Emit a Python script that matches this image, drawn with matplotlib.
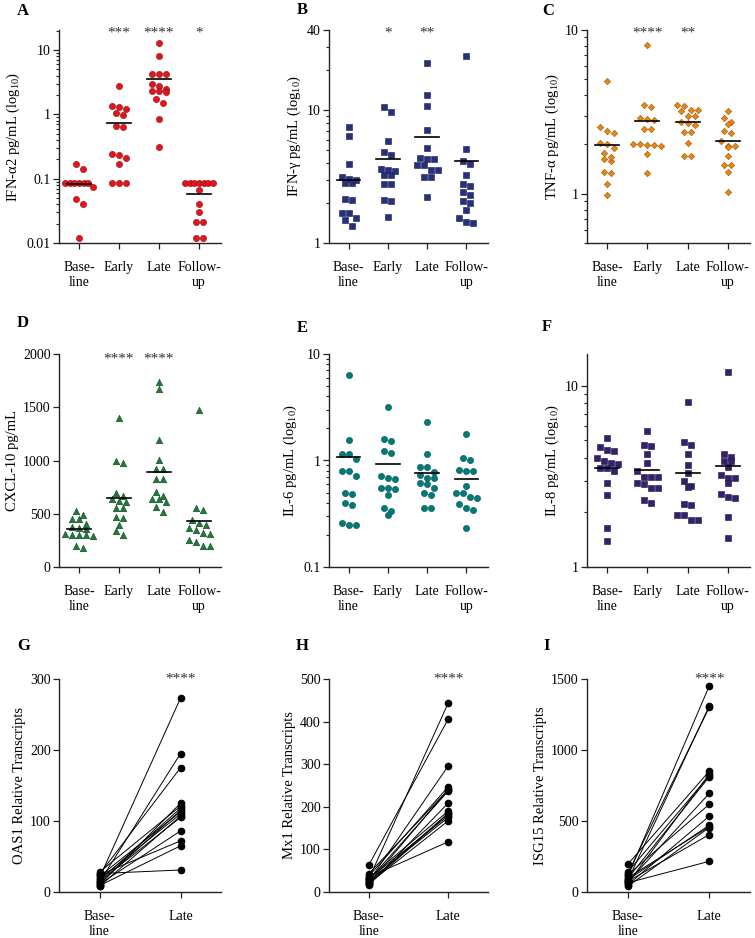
import numpy as np
import matplotlib.pyplot as plt
from matplotlib.ticker import FixedLocator, LogLocator, NullFormatter, FixedFormatter
from matplotlib.transforms import blended_transform_factory

plt.rcParams['font.family'] = ['Liberation Serif', 'DejaVu Serif']
plt.rcParams['mathtext.fontset'] = 'custom'
plt.rcParams['mathtext.rm'] = 'Liberation Serif'
plt.rcParams['mathtext.it'] = 'Liberation Serif:italic'
plt.rcParams['font.size'] = 10

cats4 = ['Base-\nline', 'Early', 'Late', 'Follow-\nup']
cats2 = ['Base-\nline', 'Late']

# A: IFN-a2 (pg/mL)
a_base = [0.172, 0.139, 0.087, 0.087, 0.087, 0.087, 0.087, 0.087, 0.075, 0.049, 0.040, 0.012]
a_early = [2.75, 1.21, 1.34, 1.28, 0.98, 1.04, 0.66, 0.63, 0.23, 0.21, 0.24, 0.17, 0.087, 0.087, 0.087]
a_late = [12.7, 8.2, 4.3, 4.3, 4.3, 3.0, 2.8, 2.5, 2.3, 2.2, 2.3, 1.75, 1.5, 0.86, 0.31]
a_fu = [0.087, 0.087, 0.087, 0.087, 0.087, 0.087, 0.087, 0.066, 0.040, 0.030, 0.021, 0.021, 0.012, 0.012]
a_stars = ['', '***', '****', '*']

# B: IFN-g
b_base = [7.47, 6.35, 3.96, 3.05, 2.82, 2.82, 2.99, 3.13, 2.11, 2.15, 1.67, 1.67, 1.53, 1.49, 1.35]
b_early = [10.6, 9.7, 5.8, 4.6, 4.8, 3.56, 3.63, 3.25, 3.25, 3.46, 2.77, 2.77, 2.11, 2.07, 1.57]
b_late = [22.6, 13.0, 10.7, 7.1, 5.15, 4.32, 4.25, 4.37, 3.84, 3.84, 3.56, 3.56, 3.13, 3.13, 2.23]
b_fu = [25.6, 5.11, 4.17, 3.94, 3.23, 2.77, 2.67, 2.41, 2.30, 2.08, 1.99, 1.77, 1.53, 1.44, 1.42]
b_stars = ['', '*', '**', '']

# C: TNF-a
c_base = [4.9, 2.54, 2.36, 2.40, 2.0, 2.05, 1.77, 1.89, 1.62, 1.58, 1.68, 1.33, 1.35, 1.14, 0.98]
c_early = [8.13, 3.47, 3.4, 2.88, 2.81, 2.92, 2.5, 2.5, 1.99, 1.99, 2.0, 1.97, 1.76, 1.34, 2.0]
c_late = [3.5, 3.45, 3.24, 3.18, 3.24, 2.98, 2.98, 2.75, 2.7, 2.62, 2.39, 2.39, 2.03, 1.7, 1.7]
c_fu = [3.21, 2.89, 2.75, 2.65, 2.4, 2.35, 2.1, 1.95, 1.95, 1.93, 1.7, 1.5, 1.5, 1.36, 1.03]
c_stars = ['', '****', '**', '']

# D: CXCL-10
d_base = [528, 455, 455, 487, 377, 361, 370, 408, 305, 289, 298, 305, 314, 182, 195]
d_early = [1403, 973, 998, 669, 622, 697, 550, 550, 462, 471, 399, 339, 298, 640, 612]
d_late = [1733, 1670, 1193, 1005, 920, 920, 826, 823, 707, 666, 634, 606, 634, 559, 518]
d_fu = [1476, 550, 534, 446, 399, 415, 352, 320, 314, 367, 232, 251, 195, 195]
d_stars = ['', '****', '****', '']

# E: IL-6
e_base = [6.34, 1.55, 1.16, 1.16, 1.04, 0.80, 0.80, 0.71, 0.485, 0.49, 0.40, 0.385, 0.26, 0.247, 0.25]
e_early = [3.18, 1.51, 1.60, 1.22, 1.18, 0.68, 0.67, 0.72, 0.54, 0.55, 0.55, 0.47, 0.355, 0.337, 0.307]
e_late = [2.30, 1.16, 0.865, 0.877, 0.776, 0.73, 0.61, 0.55, 0.68, 0.68, 0.49, 0.47, 0.357, 0.357, 0.6]
e_fu = [1.78, 1.06, 1.02, 0.82, 0.79, 0.79, 0.58, 0.50, 0.50, 0.44, 0.45, 0.36, 0.39, 0.345, 0.23]

# F: IL-8
f_base = [5.17, 4.59, 4.36, 4.43, 3.84, 3.76, 4.0, 3.71, 3.51, 3.41, 3.51, 2.90, 2.49, 1.64, 1.39]
f_early = [5.6, 4.73, 4.63, 4.18, 3.74, 3.4, 3.16, 3.16, 3.16, 2.92, 2.88, 2.72, 2.72, 2.27, 2.34]
f_late = [8.2, 4.89, 4.69, 4.18, 3.66, 3.29, 3.0, 2.79, 2.76, 2.22, 2.20, 1.93, 1.93, 1.81, 1.81]
f_fu = [11.96, 4.22, 4.04, 3.84, 3.84, 3.24, 3.1, 3.1, 2.91, 2.53, 2.45, 2.39, 1.88, 1.44, 3.55]

# G-I: paired transcripts, baseline vs late
g_base = [20, 14, 25, 10, 28, 16, 12, 22, 18, 8, 15, 11, 24, 9, 26]
g_late = [273, 195, 175, 125, 121, 118, 115, 113, 110, 107, 105, 86, 72, 65, 31]
h_base = [30, 63, 25, 37, 20, 43, 28, 16, 33, 22, 18, 31, 26, 20, 35]
h_late = [444, 406, 296, 247, 241, 240, 237, 209, 190, 185, 184, 179, 175, 167, 118]
i_base = [110, 80, 130, 195, 60, 140, 95, 70, 120, 50, 85, 100, 40, 75, 65]
i_late = [1451, 1310, 1300, 851, 830, 820, 811, 694, 618, 534, 470, 460, 454, 404, 216]

W, H = 755, 938
fig = plt.figure(figsize=(W / 100, H / 100), dpi=100)


def add_ax(left, top, width, height):
    return fig.add_axes([left / W, 1 - (top + height) / H, width / W, height / H])


def style(ax):
    for s in ['top', 'right']:
        ax.spines[s].set_visible(False)
    for s in ['left', 'bottom']:
        ax.spines[s].set_linewidth(1.0)
        ax.spines[s].set_color('#222222')
    ax.tick_params(which='major', direction='out', length=4, width=0.9, color='#222222', labelsize=10)
    ax.tick_params(which='minor', direction='out', length=2.2, width=0.8, color='#222222')
    ax.tick_params(axis='y', pad=2)
    ax.tick_params(axis='x', pad=9)


def swarm_x(ax, x0, vals, d=7.0, h=6.0, maxw=28.0):
    # Prism-style rows: points within h px vertically share a row, centred
    ys = ax.transData.transform(np.column_stack([np.full(len(vals), float(x0)), vals]))[:, 1]
    order = np.argsort(-ys)
    offs = np.zeros(len(vals))
    row = [order[0]]
    rows_ = []
    for i in order[1:]:
        if ys[row[0]] - ys[i] <= h:
            row.append(i)
        else:
            rows_.append(row)
            row = [i]
    rows_.append(row)
    for r in rows_:
        n = len(r)
        step = d if (n - 1) * d <= maxw else maxw / (n - 1)
        for k, i in enumerate(r):
            offs[i] = (k - (n - 1) / 2) * step
    xl = ax.get_xlim()
    return x0 + offs * (xl[1] - xl[0]) / ax.bbox.width


def dot_panel(ax, groups, marker, color, edge, size, ylim, log, ylabel, stars=None,
              majors=None, labels=None, star_y=0.985):
    ax.set_xlim(-0.5, 3.55)
    if log:
        ax.set_yscale('log')
    ax.set_ylim(*ylim)
    for i, vals in enumerate(groups):
        xs = swarm_x(ax, i, vals)
        ax.scatter(xs, vals, marker=marker, s=size, c=color, edgecolors=edge,
                   linewidths=0.4, zorder=3)
        m = np.mean(vals)
        ax.plot([i - 0.3, i + 0.3], [m, m], color='black', lw=1.2, zorder=4)
    ax.set_xticks(range(4))
    ax.set_xticklabels(cats4, linespacing=1.15)
    if majors is not None:
        ax.yaxis.set_major_locator(FixedLocator(majors))
        ax.yaxis.set_major_formatter(FixedFormatter(labels))
    if log:
        ax.yaxis.set_minor_locator(LogLocator(subs=np.arange(2, 10)))
        ax.yaxis.set_minor_formatter(NullFormatter())
    ax.set_ylabel(ylabel, fontsize=10.5, labelpad=3)
    if stars:
        tr = blended_transform_factory(ax.transData, ax.transAxes)
        for i, s in enumerate(stars):
            if s:
                ax.text(i, star_y, s, transform=tr, ha='center', va='center',
                        fontsize=11, color='#333333')
    style(ax)


def pair_panel(ax, base, late, ylim, yticks, ylabel):
    ax.set_xlim(-0.5, 1.5)
    ax.set_ylim(*ylim)
    for b, l in zip(base, late):
        ax.plot([0, 1], [b, l], color='black', lw=0.7, marker='o', ms=4.5,
                mfc='black', mec='black', zorder=3, clip_on=False)
    ax.set_xticks([0, 1])
    ax.set_xticklabels(cats2, linespacing=1.15)
    ax.set_yticks(yticks)
    ax.set_ylabel(ylabel, fontsize=10.5, labelpad=3)
    tr = blended_transform_factory(ax.transData, ax.transAxes)
    ax.text(1, 1.0, '****', transform=tr, ha='center', va='center', fontsize=11, color='#333333')
    style(ax)


cols = [59, 329, 587]
widths = [162, 159, 163]
rows = [30, 354, 679]
ph = 213

axA = add_ax(cols[0], rows[0], widths[0], ph)
dot_panel(axA, [a_base, a_early, a_late, a_fu], 'o', '#e3141c', '#8a1010', 20,
          (0.01, 20.5), True, 'IFN-α2 pg/mL (log$_{10}$)', a_stars,
          [0.01, 0.1, 1, 10], ['0.01', '0.1', '1', '10'])
axB = add_ax(cols[1], rows[0], widths[1], ph)
dot_panel(axB, [b_base, b_early, b_late, b_fu], 's', '#26307c', '#161c50', 18,
          (1, 40), True, 'IFN-γ pg/mL (log$_{10}$)', b_stars,
          [1, 10, 40], ['1', '10', '40'])
axC = add_ax(cols[2], rows[0], widths[2], ph)
dot_panel(axC, [c_base, c_early, c_late, c_fu], 'D', '#e8860f', '#9a5508', 11,
          (0.5, 10), True, 'TNF-α pg/mL (log$_{10}$)', c_stars,
          [1, 10], ['1', '10'])

axD = add_ax(cols[0], rows[1], widths[0], ph)
dot_panel(axD, [d_base, d_early, d_late, d_fu], '^', '#1f7a3c', '#10451f', 22,
          (0, 2000), False, 'CXCL-10 pg/mL', d_stars, star_y=0.975)
axD.set_yticks([0, 500, 1000, 1500, 2000])
axE = add_ax(cols[1], rows[1], widths[1], ph)
dot_panel(axE, [e_base, e_early, e_late, e_fu], 'o', '#007b78', '#00504e', 20,
          (0.1, 10), True, 'IL-6 pg/mL (log$_{10}$)', None,
          [0.1, 1, 10], ['0.1', '1', '10'])
axF = add_ax(cols[2], rows[1], widths[2], ph)
dot_panel(axF, [f_base, f_early, f_late, f_fu], 's', '#33206f', '#1c1040', 18,
          (1, 15), True, 'IL-8 pg/mL (log$_{10}$)', None,
          [1, 10], ['1', '10'])

axG = add_ax(cols[0], rows[2], widths[0], ph)
pair_panel(axG, g_base, g_late, (0, 300), [0, 100, 200, 300], 'OAS1 Relative Transcripts')
axH = add_ax(cols[1], rows[2], widths[1], ph)
pair_panel(axH, h_base, h_late, (0, 500), [0, 100, 200, 300, 400, 500], 'Mx1 Relative Transcripts')
axI = add_ax(cols[2], rows[2], widths[2], ph)
pair_panel(axI, i_base, i_late, (0, 1500), [0, 500, 1000, 1500], 'ISG15 Relative Transcripts')

# panel letters
letters = [('A', 17, 3), ('B', 297, 2), ('C', 542, 3),
           ('D', 17, 315), ('E', 297, 320), ('F', 542, 319),
           ('G', 17, 638), ('H', 296, 638), ('I', 543, 638)]
for t, x, y in letters:
    fig.text(x / W, 1 - y / H, t, fontsize=12, fontweight='bold', ha='left', va='top')

fig.savefig('out.png', dpi=100)
